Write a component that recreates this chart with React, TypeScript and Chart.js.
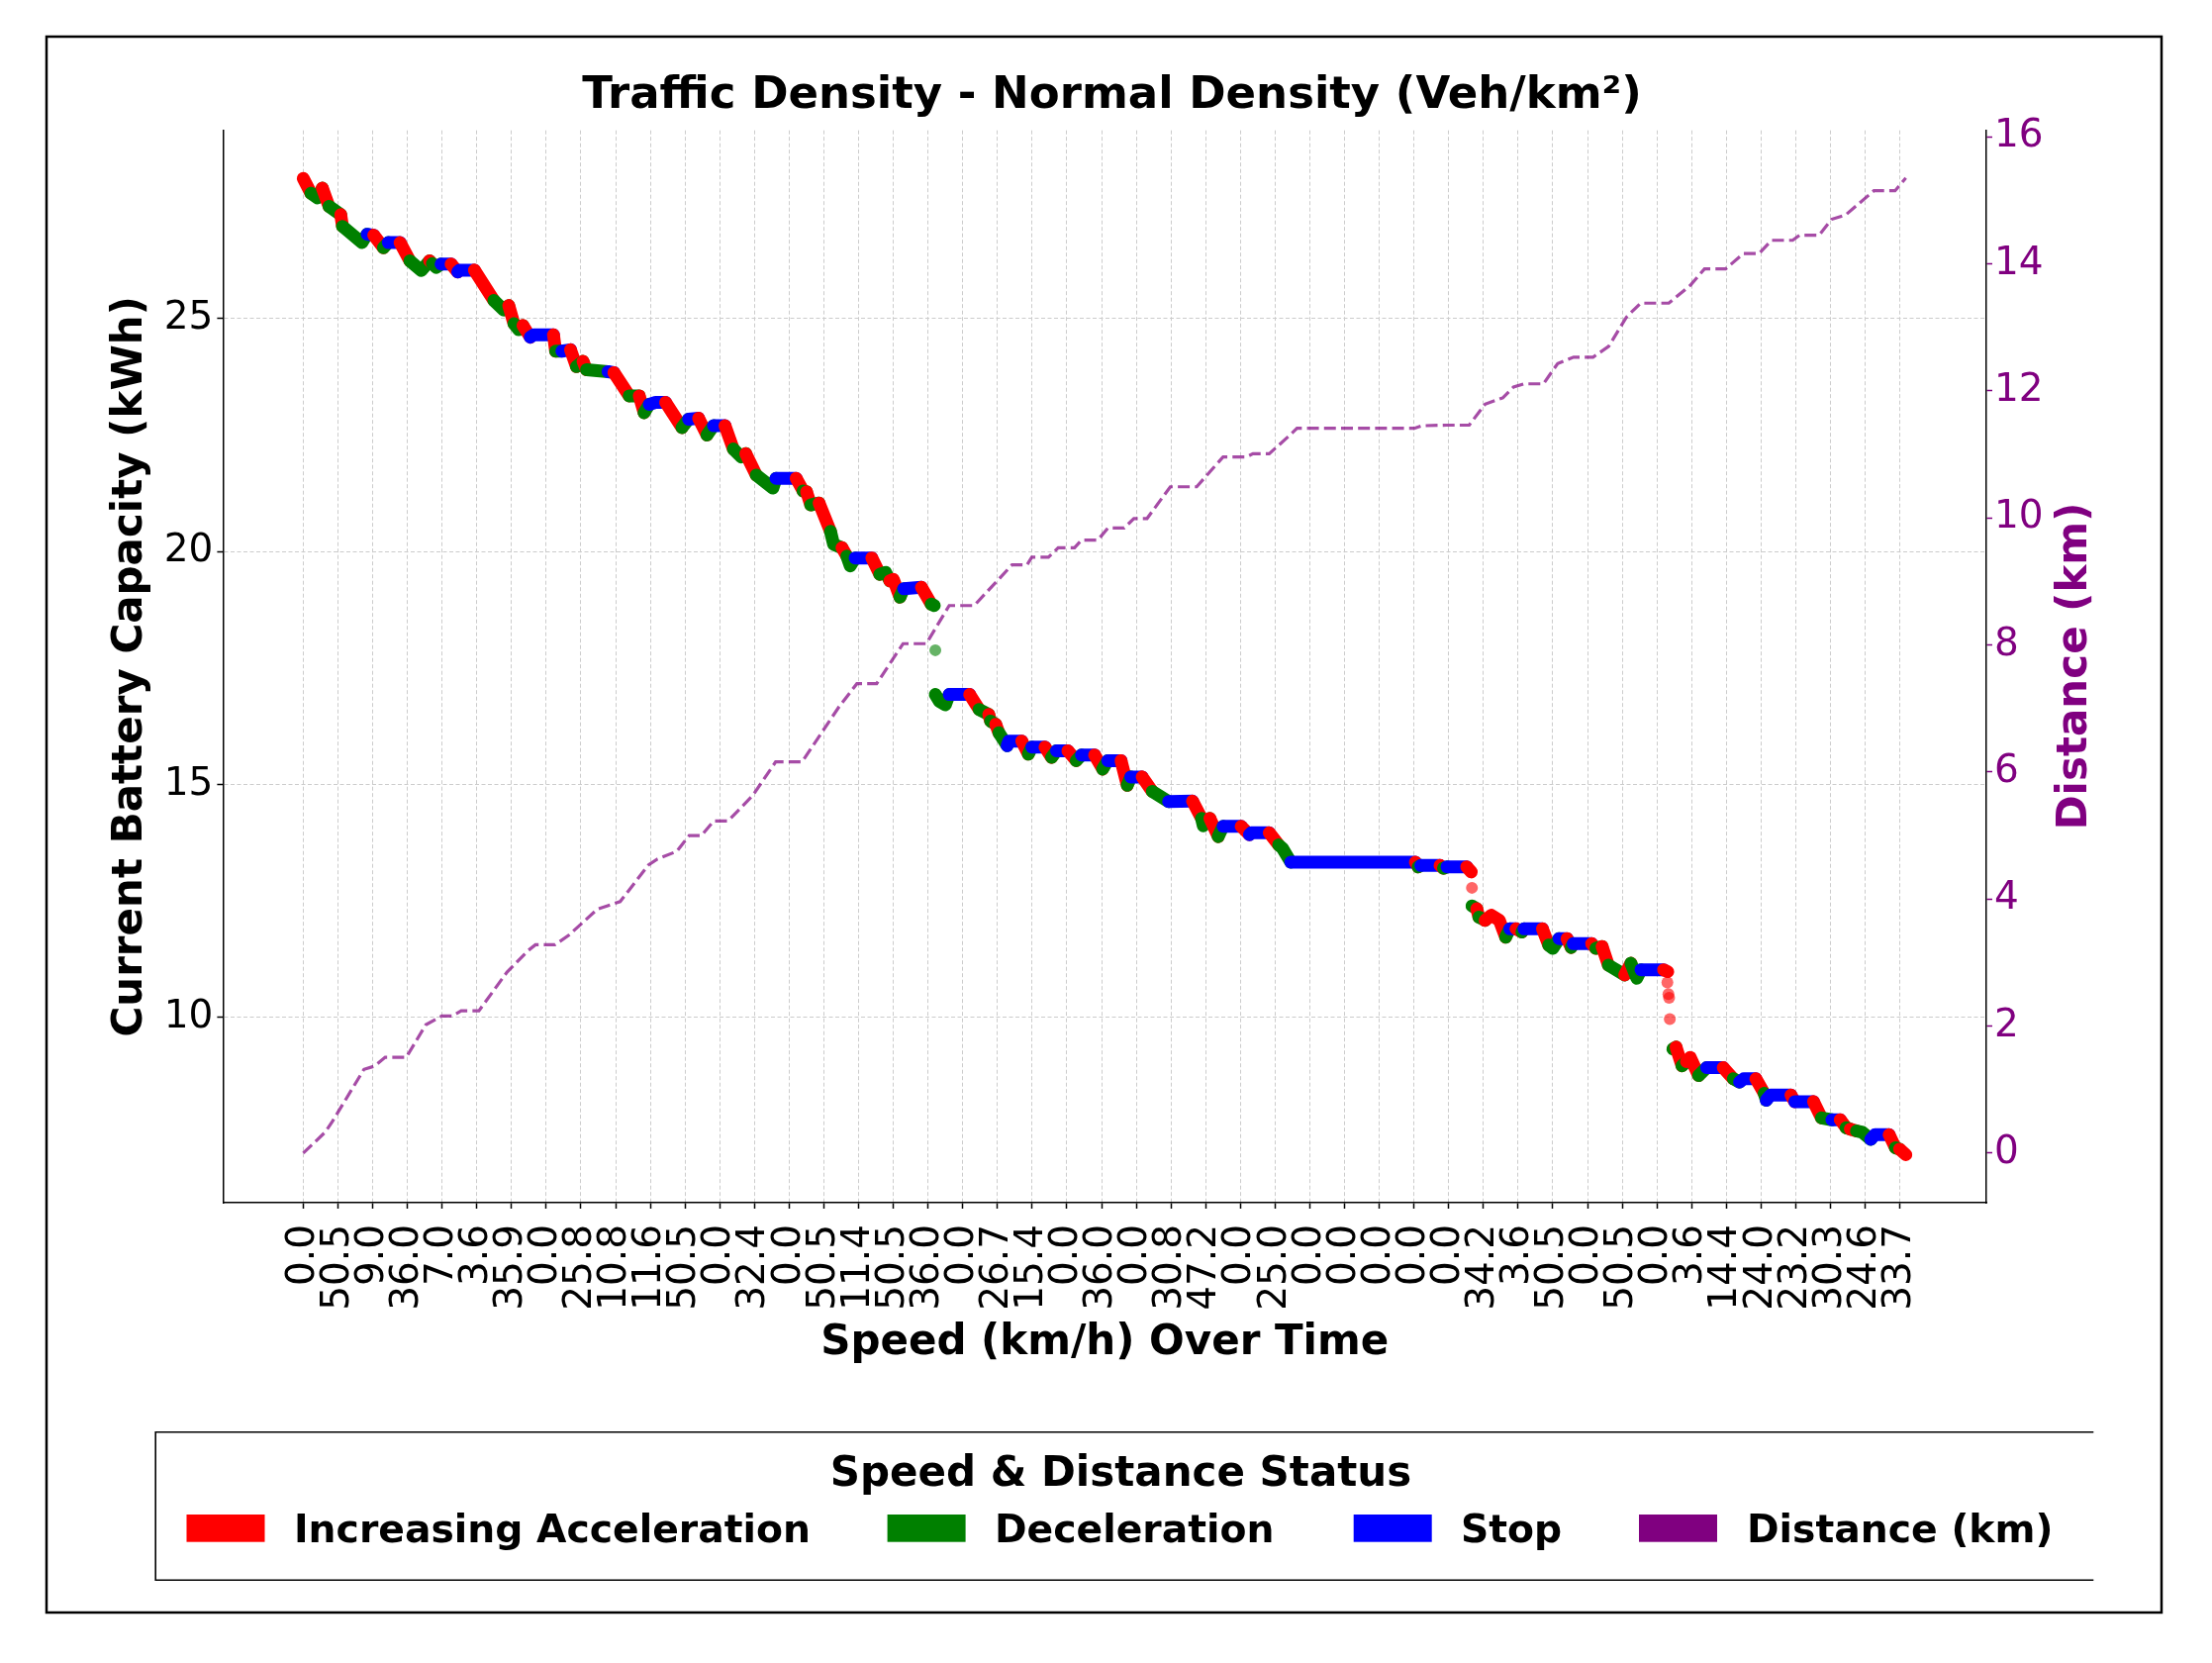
import React, { useEffect, useRef } from 'react';
import { Chart, registerables } from 'chart.js';

Chart.register(...registerables);

// ---------- data ----------
const TITLE = 'Traffic Density - Normal Density (Veh/km²)';

// speed (km/h) shown under each of the 47 time ticks
const X_LABELS = [
  '0.0', '50.5', '9.0', '36.0', '7.0', '3.6', '35.9', '0.0', '25.8', '10.8',
  '11.6', '50.5', '0.0', '32.4', '0.0', '50.5', '11.4', '50.5', '36.0', '0.0',
  '26.7', '15.4', '0.0', '36.0', '0.0', '30.8', '47.2', '0.0', '25.0', '0.0',
  '0.0', '0.0', '0.0', '0.0', '34.2', '3.6', '50.5', '0.0', '50.5', '0.0',
  '3.6', '14.4', '24.0', '23.2', '30.3', '24.6', '33.7',
];

const Y_TICKS = [10, 15, 20, 25];
const Y2_TICKS = [0, 2, 4, 6, 8, 10, 12, 14, 16];

// battery trace: time (in tick units), capacity (kWh), status of the stretch that starts there
// A = increasing acceleration, D = deceleration, S = stop; null capacity = gap in the trace
const BAT_T = [
  0.00, 0.22, 0.41, 0.55, 0.74, 1.08, 1.13, 1.69, 1.84, 2.03,
  2.31, 2.45, 2.79, 3.07, 3.40, 3.64, 3.72, 3.83, 3.97, 4.26,
  4.45, 4.50, 4.93, 5.49, 5.78, 5.92, 6.07, 6.21, 6.33, 6.54,
  6.64, 7.21, 7.27, 7.45, 7.70, 7.87, 8.06, 8.16, 8.78, 8.95,
  9.39, 9.68, 9.82, 9.97, 10.15, 10.44, 10.91, 11.10, 11.39, 11.63,
  11.82, 12.15, 12.39, 12.62, 12.75, 13.05, 13.53, 13.62, 14.20, 14.40,
  14.50, 14.62, 14.86, 15.19, 15.28, 15.52, 15.66, 15.76, 15.90, 16.38,
  16.61, 16.78, 16.90, 17.00, 17.19, 17.30, 17.81, 18.09, 18.18, 18.19,
  18.21, 18.33, 18.50, 18.61, 19.20, 19.47, 19.75, 19.80, 19.95, 20.04,
  20.28, 20.33, 20.70, 20.89, 20.99, 21.37, 21.56, 21.70, 22.03, 22.27,
  22.42, 22.80, 23.03, 23.18, 23.56, 23.74, 23.84, 24.17, 24.46, 24.93,
  25.62, 25.88, 25.93, 26.12, 26.36, 26.50, 27.02, 27.26, 27.31, 27.83,
  28.10, 28.21, 28.45, 32.04, 32.12, 32.20, 32.75, 32.85, 32.95, 33.52,
  33.65, 33.66,
  33.67, 33.81, 33.87, 34.05, 34.23, 34.46, 34.64, 34.76, 34.94, 35.11,
  35.17, 35.70, 35.88, 36.00, 36.18, 36.41, 36.53, 36.59, 37.12, 37.24,
  37.42, 37.60, 38.07, 38.25, 38.42, 38.54, 39.19, 39.31, 39.32,
  39.46, 39.55, 39.72, 39.85, 39.96, 40.20, 40.43, 40.91, 41.20, 41.38,
  41.50, 41.85, 42.09, 42.15, 42.27, 42.86, 42.97, 43.51, 43.74, 44.04,
  44.28, 44.45, 44.57, 44.75, 44.92, 45.16, 45.28, 45.69, 45.87, 45.99,
  46.17,
];
const BAT_KWH = [
  28.01, 27.69, 27.59, 27.80, 27.41, 27.23, 26.98, 26.63, 26.81, 26.79,
  26.52, 26.63, 26.63, 26.24, 26.03, 26.24, 26.18, 26.10, 26.17, 26.17,
  26.00, 26.04, 26.04, 25.39, 25.18, 25.28, 24.89, 24.76, 24.85, 24.60,
  24.65, 24.65, 24.30, 24.30, 24.33, 23.97, 24.08, 23.90, 23.86, 23.84,
  23.34, 23.34, 22.98, 23.16, 23.20, 23.20, 22.66, 22.84, 22.86, 22.50,
  22.70, 22.70, 22.20, 22.03, 22.10, 21.64, 21.36, 21.57, 21.57, 21.30,
  21.28, 21.00, 21.04, 20.43, 20.15, 20.08, 19.90, 19.69, 19.86, 19.86,
  19.51, 19.55, 19.37, 19.40, 19.02, 19.20, 19.23, 18.87, 18.84, null,
  16.93, 16.78, 16.71, 16.93, 16.93, 16.61, 16.50, 16.36, 16.29, 16.11,
  15.83, 15.93, 15.93, 15.65, 15.80, 15.80, 15.58, 15.72, 15.72, 15.51,
  15.63, 15.63, 15.33, 15.51, 15.51, 14.98, 15.16, 15.16, 14.85, 14.63,
  14.64, 14.27, 14.11, 14.27, 13.88, 14.10, 14.10, 13.92, 13.96, 13.96,
  13.70, 13.63, 13.33, 13.33, 13.23, 13.26, 13.26, 13.20, 13.23, 13.23,
  13.12, null,
  12.39, 12.33, 12.15, 12.08, 12.19, 12.08, 11.72, 11.90, 11.90, 11.83,
  11.90, 11.90, 11.55, 11.48, 11.69, 11.69, 11.50, 11.58, 11.58, 11.48,
  11.52, 11.12, 10.91, 11.16, 10.84, 11.02, 11.02, 10.98, null,
  9.32, 9.36, 8.96, 9.05, 9.14, 8.75, 8.92, 8.92, 8.68, 8.61,
  8.68, 8.68, 8.37, 8.22, 8.33, 8.33, 8.19, 8.19, 7.84, 7.80,
  7.80, 7.63, 7.60, 7.56, 7.53, 7.38, 7.48, 7.48, 7.20, 7.17,
  7.05,
];
const BAT_STATE = [
  'A', 'D', 'D', 'A', 'D', 'A', 'D', 'D', 'S', 'A',
  'D', 'S', 'A', 'D', 'D', 'A', 'D', 'D', 'S', 'A',
  'S', 'S', 'A', 'D', 'D', 'A', 'D', 'D', 'A', 'S',
  'S', 'A', 'D', 'S', 'A', 'D', 'A', 'D', 'S', 'A',
  'D', 'A', 'D', 'S', 'S', 'A', 'D', 'S', 'A', 'D',
  'S', 'A', 'D', 'D', 'A', 'D', 'D', 'S', 'A', 'D',
  'A', 'D', 'A', 'D', 'D', 'A', 'D', 'D', 'S', 'A',
  'D', 'D', 'A', 'A', 'D', 'S', 'A', 'D', 'D', 'D',
  'D', 'D', 'D', 'S', 'A', 'D', 'A', 'D', 'A', 'D',
  'S', 'S', 'A', 'D', 'S', 'A', 'D', 'S', 'A', 'D',
  'S', 'A', 'D', 'S', 'A', 'D', 'S', 'A', 'D', 'S',
  'A', 'D', 'D', 'A', 'D', 'S', 'A', 'S', 'S', 'A',
  'D', 'D', 'S', 'A', 'D', 'S', 'A', 'D', 'S', 'A',
  'A', 'A',
  'D', 'A', 'D', 'A', 'A', 'A', 'D', 'S', 'A', 'D',
  'S', 'A', 'D', 'D', 'S', 'A', 'D', 'S', 'A', 'D',
  'A', 'D', 'A', 'D', 'D', 'S', 'A', 'A', 'A',
  'D', 'A', 'D', 'A', 'A', 'D', 'S', 'A', 'D', 'S',
  'S', 'A', 'D', 'S', 'S', 'A', 'S', 'A', 'D', 'S',
  'A', 'D', 'A', 'D', 'D', 'S', 'S', 'A', 'D', 'A',
  'A',
];

// isolated readings inside the big drops
const ISO_T = [18.21, 33.67, 39.30, 39.33, 39.35, 39.37];
const ISO_KWH = [17.88, 12.78, 10.75, 10.50, 10.42, 9.96];
const ISO_STATE = ['D', 'A', 'A', 'A', 'A', 'A'];

// cumulative distance (km)
const DIST_T = [
  0.00, 0.63, 0.83, 1.75, 2.05, 2.36, 2.97, 3.53, 3.99, 4.29,
  4.55, 5.06, 5.87, 6.48, 6.69, 7.25, 7.65, 8.47, 9.13, 9.95,
  10.20, 10.76, 11.12, 11.47, 11.83, 12.24, 12.95, 13.61, 14.37, 15.44,
  15.95, 16.52, 17.28, 17.95, 18.61, 19.33, 20.42, 20.85, 20.99, 21.47,
  21.75, 22.22, 22.42, 22.89, 23.18, 23.65, 23.93, 24.31, 24.98, 25.74,
  26.50, 27.17, 27.36, 27.83, 28.40, 28.63, 30.64, 32.01, 32.22, 32.93,
  33.59, 34.05, 34.56, 34.87, 35.17, 35.73, 36.14, 36.60, 37.16, 37.61,
  38.12, 38.53, 39.34, 39.96, 40.37, 40.98, 41.49, 41.94, 42.30, 42.91,
  43.11, 43.67, 44.03, 44.44, 45.25, 45.86, 46.17,
];
const DIST_KM = [
  0.00, 0.33, 0.49, 1.32, 1.37, 1.51, 1.51, 2.02, 2.16, 2.16,
  2.24, 2.24, 2.85, 3.19, 3.28, 3.28, 3.43, 3.84, 3.96, 4.54,
  4.63, 4.75, 5.00, 5.00, 5.23, 5.23, 5.63, 6.16, 6.16, 7.03,
  7.39, 7.39, 8.02, 8.02, 8.62, 8.62, 9.26, 9.26, 9.38, 9.38,
  9.53, 9.53, 9.65, 9.65, 9.84, 9.84, 9.99, 9.99, 10.49, 10.49,
  10.96, 10.96, 11.01, 11.01, 11.29, 11.41, 11.41, 11.41, 11.45, 11.46,
  11.46, 11.79, 11.89, 12.06, 12.11, 12.11, 12.43, 12.53, 12.53, 12.70,
  13.16, 13.38, 13.38, 13.66, 13.92, 13.92, 14.16, 14.16, 14.37, 14.37,
  14.45, 14.45, 14.70, 14.77, 15.15, 15.15, 15.35,
];

const LEGEND_LABELS = ['Increasing Acceleration', 'Deceleration', 'Stop', 'Distance (km)'];

// ---------- styles ----------
const W = 2235;
const H = 1680;
const FONT = "'DejaVu Sans', sans-serif";
const STATE_COLOR: Record<string, string> = { A: '#ff0000', D: '#008000', S: '#0000ff' };
const STATE_COLOR_SOFT: Record<string, string> = {
  A: 'rgba(255,0,0,0.6)',
  D: 'rgba(0,128,0,0.6)',
  S: 'rgba(0,0,255,0.6)',
};
const LEGEND_COLORS = ['#ff0000', '#008000', '#0000ff', '#800080'];
const LEGEND_BOX_X = [188.5, 896.6, 1367.7, 1656];
const LEGEND_TEXT_X = [297, 1005, 1476, 1765];

const GRID = {
  color: '#cccccc',
  lineWidth: 1,
  drawTicks: true,
  tickLength: 6,
  tickColor: '#000000',
  tickWidth: 1.5,
  tickBorderDash: [] as number[],
};

const decorPlugin = {
  id: 'decor',
  afterDraw(chart: any) {
    const ctx: CanvasRenderingContext2D = chart.ctx;
    ctx.save();
    // figure frame
    ctx.strokeStyle = '#000';
    ctx.lineWidth = 2.5;
    ctx.strokeRect(47, 37, 2137, 1592);

    // title
    ctx.fillStyle = '#000';
    ctx.font = `bold 45px ${FONT}`;
    ctx.textAlign = 'center';
    ctx.textBaseline = 'alphabetic';
    ctx.fillText(TITLE, 1123.6, 109.3);

    // right axis title (reads bottom to top)
    ctx.save();
    ctx.translate(2097, 673);
    ctx.rotate(-Math.PI / 2);
    ctx.font = `bold 42px ${FONT}`;
    ctx.fillStyle = '#800080';
    ctx.textAlign = 'center';
    ctx.textBaseline = 'middle';
    ctx.fillText('Distance (km)', 0, 0);
    ctx.restore();

    // legend frame (open on the right side)
    ctx.strokeStyle = '#000';
    ctx.lineWidth = 1.6;
    ctx.beginPath();
    ctx.moveTo(2115.3, 1446.7);
    ctx.lineTo(157.2, 1446.7);
    ctx.lineTo(157.2, 1596.3);
    ctx.lineTo(2115.3, 1596.3);
    ctx.stroke();

    // legend title
    ctx.fillStyle = '#000';
    ctx.font = `bold 42px ${FONT}`;
    ctx.textAlign = 'center';
    ctx.textBaseline = 'alphabetic';
    ctx.fillText('Speed & Distance Status', 1132.5, 1500.6);

    // legend entries
    ctx.font = `bold 39.3px ${FONT}`;
    ctx.textAlign = 'left';
    LEGEND_LABELS.forEach((label, i) => {
      ctx.fillStyle = LEGEND_COLORS[i];
      ctx.fillRect(LEGEND_BOX_X[i], 1530, 79, 27.7);
      ctx.fillStyle = '#000';
      ctx.fillText(label, LEGEND_TEXT_X[i], 1557.5);
    });
    ctx.restore();
  },
};

export default function App() {
  const ref = useRef<HTMLCanvasElement>(null);

  useEffect(() => {
    document.body.style.margin = '0';
    Chart.defaults.font.family = FONT;

    const batData = BAT_T.map((t, i) => ({ x: t, y: BAT_KWH[i] }));
    const isoData = ISO_T.map((t, i) => ({ x: t, y: ISO_KWH[i] }));
    const distData = DIST_T.map((t, i) => ({ x: t, y: DIST_KM[i] }));

    const chart = new Chart(ref.current as HTMLCanvasElement, {
      type: 'line',
      data: {
        datasets: [
          {
            label: 'Distance (km)',
            data: distData,
            yAxisID: 'y2',
            borderColor: 'rgba(128,0,128,0.7)',
            borderWidth: 3.2,
            borderDash: [12, 5.2],
            pointRadius: 0,
            tension: 0,
            order: 0,
          } as any,
          {
            label: 'Battery',
            data: batData,
            yAxisID: 'y',
            borderWidth: 13,
            borderCapStyle: 'round',
            borderJoinStyle: 'round',
            borderColor: '#ff0000',
            pointRadius: 0,
            spanGaps: false,
            tension: 0,
            order: 1,
            segment: {
              borderColor: (c: any) => STATE_COLOR[BAT_STATE[c.p0DataIndex]] || '#ff0000',
            },
          } as any,
          {
            label: 'Isolated',
            data: isoData,
            yAxisID: 'y',
            showLine: false,
            pointRadius: 6,
            pointBorderWidth: 0,
            pointBackgroundColor: ISO_STATE.map((s) => STATE_COLOR_SOFT[s]),
            order: 2,
          } as any,
        ],
      },
      options: {
        responsive: false,
        animation: false,
        devicePixelRatio: 1,
        layout: { padding: { left: 106.8, right: 128, top: 131.7, bottom: 297.8 } },
        plugins: {
          legend: { display: false },
          title: { display: false },
          tooltip: { enabled: false },
        },
        scales: {
          x: {
            type: 'linear',
            min: -2.31,
            max: 48.49,
            afterBuildTicks: (s: any) => {
              s.ticks = X_LABELS.map((_, i) => ({ value: i }));
            },
            afterFit: (s: any) => {
              s.height = 167.2;
            },
            ticks: {
              autoSkip: false,
              maxRotation: 90,
              minRotation: 90,
              padding: 16,
              color: '#000',
              font: { size: 39 },
              callback: (v: any) => X_LABELS[Math.round(Number(v))] ?? '',
            },
            grid: GRID,
            border: { display: true, color: '#000', width: 1.5, dash: [4, 2.5] },
            title: {
              display: true,
              text: 'Speed (km/h) Over Time',
              color: '#000',
              font: { size: 42, weight: 'bold' },
              padding: 0,
            },
          },
          y: {
            type: 'linear',
            position: 'left',
            min: 6.02,
            max: 29.04,
            afterBuildTicks: (s: any) => {
              s.ticks = Y_TICKS.map((v) => ({ value: v }));
            },
            afterFit: (s: any) => {
              s.width = 118.6;
            },
            ticks: { padding: 4, color: '#000', font: { size: 39 } },
            grid: GRID,
            border: { display: true, color: '#000', width: 1.5, dash: [4, 2.5] },
            title: {
              display: true,
              text: 'Current Battery Capacity (kWh)',
              color: '#000',
              font: { size: 42, weight: 'bold' },
              padding: 0,
            },
          },
          y2: {
            type: 'linear',
            position: 'right',
            min: -0.78,
            max: 16.1,
            afterBuildTicks: (s: any) => {
              s.ticks = Y2_TICKS.map((v) => ({ value: v }));
            },
            afterFit: (s: any) => {
              s.width = 100;
            },
            ticks: { padding: 2, color: '#800080', font: { size: 39 } },
            grid: { ...GRID, drawOnChartArea: false, tickColor: '#800080' },
            border: { display: true, color: '#000', width: 1.5 },
          },
        },
      } as any,
      plugins: [decorPlugin],
    });

    return () => chart.destroy();
  }, []);

  return (
    <div style={{ position: 'absolute', left: 0, top: 0, width: W, height: H, background: '#fff' }}>
      <canvas ref={ref} width={W} height={H} style={{ width: W, height: H, display: 'block' }} />
    </div>
  );
}
